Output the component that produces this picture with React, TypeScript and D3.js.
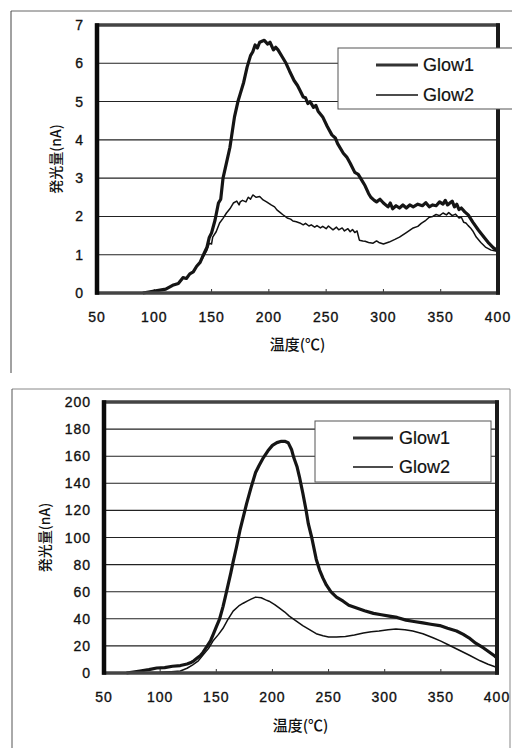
import React from "react";
import * as d3 from "d3";

// ---------- Data ----------
const xTicks = [50, 100, 150, 200, 250, 300, 350, 400];
const seriesNames = ["Glow1", "Glow2"];
const yTitle = "発光量(nA)";
const xTitle = "温度(℃)";

const topYTicks = [0, 1, 2, 3, 4, 5, 6, 7];
const topGlow1: [number, number][] = [
  [90, 0.0], [100, 0.05], [110, 0.1], [116, 0.2], [121, 0.25], [125, 0.4], [128, 0.38], [131, 0.5], [134, 0.55], [137, 0.7], [140, 0.8], [142, 0.94], [146, 1.2], [148, 1.45], [150, 1.57], [153, 1.9], [156, 2.35], [158, 2.45], [160, 3.0], [163, 3.4], [166, 3.8], [170, 4.6], [173, 5.0], [175, 5.2], [178, 5.5], [181, 5.9], [184, 6.2], [186, 6.3], [188, 6.48], [190, 6.4], [192, 6.55], [196, 6.6], [199, 6.5], [201, 6.55], [204, 6.35], [206, 6.42], [208, 6.35], [212, 6.15], [215, 6.0], [218, 5.8], [222, 5.55], [225, 5.42], [227, 5.3], [230, 5.12], [232, 5.1], [234, 4.95], [236, 5.0], [239, 4.85], [241, 4.9], [243, 4.75], [247, 4.6], [251, 4.35], [255, 4.13], [258, 4.05], [260, 3.9], [265, 3.65], [268, 3.55], [271, 3.39], [275, 3.15], [278, 3.1], [280, 3.0], [284, 2.8], [287, 2.6], [289, 2.5], [292, 2.42], [294, 2.38], [297, 2.45], [300, 2.35], [304, 2.25], [306, 2.35], [308, 2.2], [311, 2.28], [314, 2.22], [317, 2.3], [320, 2.22], [323, 2.3], [326, 2.25], [330, 2.32], [334, 2.28], [337, 2.36], [340, 2.25], [343, 2.3], [346, 2.28], [349, 2.38], [352, 2.32], [354, 2.42], [356, 2.3], [358, 2.35], [360, 2.4], [362, 2.25], [364, 2.32], [366, 2.18], [368, 2.22], [371, 2.12], [374, 2.04], [378, 1.85], [383, 1.64], [388, 1.45], [392, 1.3], [396, 1.18], [400, 1.1],
];
const topGlow2: [number, number][] = [
  [90, 0.0], [100, 0.05], [110, 0.1], [116, 0.2], [121, 0.25], [125, 0.4], [128, 0.38], [131, 0.5], [134, 0.55], [137, 0.7], [140, 0.8], [142, 0.9], [146, 1.12], [148, 1.3], [150, 1.28], [151, 1.46], [154, 1.6], [157, 1.83], [160, 1.95], [163, 2.09], [166, 2.2], [169, 2.35], [172, 2.4], [174, 2.3], [175, 2.38], [177, 2.42], [180, 2.38], [182, 2.5], [184, 2.45], [186, 2.56], [189, 2.5], [192, 2.52], [195, 2.43], [198, 2.38], [202, 2.3], [205, 2.25], [207, 2.17], [210, 2.1], [212, 2.05], [216, 1.96], [219, 1.93], [221, 1.88], [224, 1.86], [227, 1.83], [230, 1.78], [232, 1.82], [235, 1.75], [237, 1.78], [240, 1.72], [242, 1.76], [245, 1.7], [247, 1.74], [250, 1.68], [252, 1.75], [256, 1.65], [259, 1.72], [261, 1.65], [264, 1.7], [266, 1.62], [269, 1.68], [271, 1.6], [273, 1.66], [275, 1.58], [277, 1.62], [279, 1.38], [282, 1.36], [284, 1.35], [287, 1.32], [291, 1.3], [294, 1.36], [296, 1.32], [300, 1.28], [305, 1.33], [310, 1.4], [314, 1.46], [320, 1.58], [326, 1.7], [330, 1.74], [333, 1.82], [337, 1.9], [340, 1.98], [343, 2.0], [346, 2.05], [349, 2.02], [352, 2.09], [355, 2.04], [357, 2.1], [360, 2.02], [363, 2.06], [366, 1.96], [368, 1.98], [370, 1.85], [372, 1.83], [374, 1.76], [376, 1.7], [378, 1.62], [381, 1.46], [385, 1.32], [389, 1.2], [394, 1.12], [398, 1.1], [400, 1.08],
];

const botYTicks = [0, 20, 40, 60, 80, 100, 120, 140, 160, 180, 200];
const botGlow1: [number, number][] = [
  [70, 0], [82, 1.5], [90, 2.5], [97, 3.7], [104, 4], [111, 5], [118, 5.5], [124, 6.6], [128, 8], [130, 9], [133, 11], [136, 13], [138, 15], [142, 20], [145, 24], [147, 28], [150, 34], [153, 40], [156, 49], [158, 56], [160.5, 65], [163, 74], [165, 82], [168, 93], [171, 105], [174, 115], [177, 125], [181, 137], [185, 148], [188, 153], [192, 159], [196, 164], [200, 168], [204, 170], [208, 171], [211, 171], [214, 170], [217, 165], [219, 159], [222, 152], [224, 145], [227, 133], [230, 120], [232, 110], [235, 100], [239, 84], [242, 76], [245, 70], [248, 65], [252, 60], [257, 56], [263, 53], [268, 50], [275, 48], [282, 46], [290, 44], [297, 43], [304, 42], [311, 41], [319, 39], [326, 38], [334, 37], [341, 36], [349, 35], [356, 33], [364, 31], [370, 28.5], [375, 26], [381, 22], [388, 18.5], [393, 15.5], [398, 12.5], [400, 11],
];
const botGlow2: [number, number][] = [
  [80, 0], [100, 0.5], [110, 1], [118, 1.5], [124, 3.5], [129, 6], [134, 9], [138, 13], [143, 18], [147, 23.6], [152, 28.5], [156, 33], [160, 39], [165, 45.7], [170, 49.5], [174, 51.5], [177.5, 53], [181, 54.5], [185, 56], [190, 55.5], [194, 54], [197, 53], [202, 50.5], [206, 48], [211, 45], [215, 42], [221, 38.5], [227, 35], [233, 32], [239, 29], [245, 27.5], [250, 26.6], [257, 26.5], [265, 27], [273, 28], [281, 29.5], [288, 30.5], [295, 31], [303, 32], [310, 32.5], [318, 32], [325, 31], [334, 29], [343, 26], [350, 23.5], [357, 20.7], [366, 17], [375, 13.3], [385, 9], [392, 6.5], [397, 5], [400, 4],
];

// ---------- Chart ----------
type Geo = {
  left: number; right: number; top: number; bottom: number;
  legend: { x0: number; x1: number; y0: number; y1: number; lineX0: number; lineX1: number; textX: number; rowY: [number, number] };
  yTitleX: number; xTitleY: number;
};

const NUM_FONT = "'Liberation Sans', Arial, sans-serif";
const JP_FONT = "'Noto Sans CJK JP', sans-serif";

function Chart({ geo, yTicks, s1, s2 }: { geo: Geo; yTicks: number[]; s1: [number, number][]; s2: [number, number][] }) {
  const x = d3.scaleLinear().domain([50, 400]).range([geo.left, geo.right]);
  const y = d3.scaleLinear().domain([yTicks[0], yTicks[yTicks.length - 1]]).range([geo.bottom, geo.top]);
  const line = d3.line<[number, number]>().x((d) => x(d[0])).y((d) => y(d[1]));
  const L = geo.legend;
  return (
    <g>
      {yTicks.slice(1, -1).map((t) => (
        <line key={"g" + t} x1={geo.left} x2={geo.right} y1={y(t)} y2={y(t)} stroke="#222" strokeWidth={1.1} />
      ))}
      {xTicks.slice(1, -1).map((t) => (
        <line key={"xt" + t} x1={x(t)} x2={x(t)} y1={geo.bottom} y2={geo.bottom - 4} stroke="#333" strokeWidth={1} />
      ))}
      <path d={line(s2) || ""} fill="none" stroke="#111" strokeWidth={1.5} strokeLinejoin="round" />
      <path d={line(s1) || ""} fill="none" stroke="#151515" strokeWidth={3.2} strokeLinejoin="round" />
      {/* plot border */}
      <rect x={geo.left} y={geo.top} width={geo.right - geo.left} height={geo.bottom - geo.top} fill="none" stroke="#444" strokeWidth={3.5} />
      <line x1={geo.left} x2={geo.left} y1={geo.top - 1.75} y2={geo.bottom + 1.75} stroke="#0a0a0a" strokeWidth={4.5} />
      <line x1={geo.right} x2={geo.right} y1={geo.top - 1.75} y2={geo.bottom + 1.75} stroke="#1a1a1a" strokeWidth={4} />
      {/* y tick labels */}
      {yTicks.map((t) => (
        <text key={"yl" + t} x={geo.left - 13} y={y(t)} dy="0.36em" textAnchor="end" fontFamily={NUM_FONT} fontSize={14} letterSpacing={1} fill="#111" stroke="#111" strokeWidth={0.35}>
          {t}
        </text>
      ))}
      {xTicks.map((t) => (
        <text key={"xl" + t} x={x(t)} y={geo.bottom + 24} dy="0.36em" textAnchor="middle" fontFamily={NUM_FONT} fontSize={14} letterSpacing={1} fill="#111" stroke="#111" strokeWidth={0.35}>
          {t}
        </text>
      ))}
      <text x={(geo.left + geo.right) / 2} y={geo.xTitleY} dy="0.36em" textAnchor="middle" fontFamily={JP_FONT} fontSize={15} fontWeight={500} fill="#111">
        {xTitle}
      </text>
      <text transform={`translate(${geo.yTitleX},${(geo.top + geo.bottom) / 2}) rotate(-90)`} dy="0.36em" textAnchor="middle" fontFamily={JP_FONT} fontSize={14} fontWeight={500} fill="#111">
        {yTitle}
      </text>
      {/* legend */}
      <rect x={L.x0} y={L.y0} width={L.x1 - L.x0} height={L.y1 - L.y0} fill="#fff" stroke="#555" strokeWidth={1} />
      {seriesNames.map((n, i) => (
        <g key={n}>
          <line x1={L.lineX0} x2={L.lineX1} y1={L.rowY[i]} y2={L.rowY[i]} stroke={i === 0 ? "#333" : "#111"} strokeWidth={i === 0 ? 3 : 1.7} />
          <text x={L.textX} y={L.rowY[i]} dy="0.36em" fontFamily={NUM_FONT} fontSize={18} fill="#111" stroke="#111" strokeWidth={0.2}>
            {n}
          </text>
        </g>
      ))}
    </g>
  );
}

const topGeo: Geo = {
  left: 97, right: 498, top: 25, bottom: 293,
  legend: { x0: 338, x1: 516, y0: 48, y1: 109, lineX0: 376, lineX1: 418, textX: 423, rowY: [65, 95] },
  yTitleX: 56, xTitleY: 345,
};
const botGeo: Geo = {
  left: 104, right: 497, top: 402, bottom: 673,
  legend: { x0: 315, x1: 491, y0: 421, y1: 482, lineX0: 353, lineX1: 393, textX: 399, rowY: [438, 467] },
  yTitleX: 45, xTitleY: 726,
};

export default function App() {
  return (
    <svg width={512} height={748} style={{ position: "absolute", left: 0, top: 0, background: "#fff" }}>
      <rect x={0} y={0} width={512} height={748} fill="#fff" />
      {/* outer frames */}
      <line x1={11} x2={512} y1={11} y2={11} stroke="#666" strokeWidth={1} />
      <line x1={11} x2={11} y1={11} y2={373} stroke="#444" strokeWidth={1} />
      <line x1={12} x2={510} y1={389} y2={389} stroke="#888" strokeWidth={1} />
      <line x1={12} x2={12} y1={389} y2={748} stroke="#555" strokeWidth={1} />
      <line x1={510} x2={510} y1={389} y2={748} stroke="#888" strokeWidth={1} />
      <Chart geo={topGeo} yTicks={topYTicks} s1={topGlow1} s2={topGlow2} />
      <Chart geo={botGeo} yTicks={botYTicks} s1={botGlow1} s2={botGlow2} />
    </svg>
  );
}
